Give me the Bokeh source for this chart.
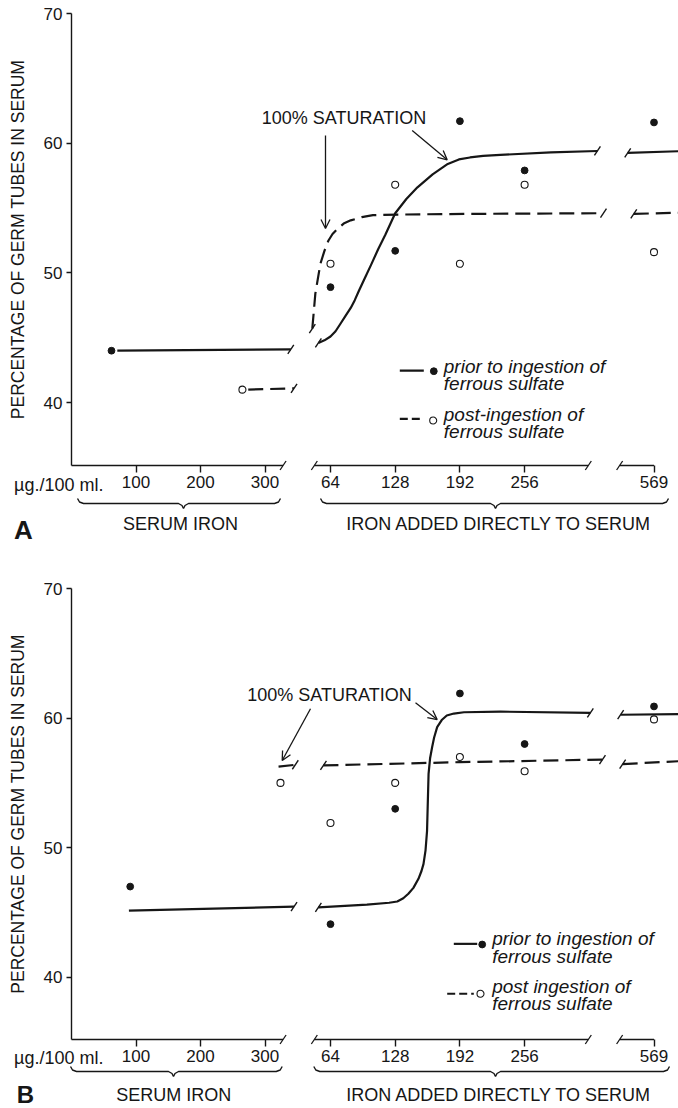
from bokeh.plotting import figure
from bokeh.layouts import column
from bokeh.models import FixedTicker, Range1d, Arrow, OpenHead
from bokeh.core.properties import value
from bokeh.embed import file_html
from bokeh.resources import INLINE

FONT = "Liberation Sans"
INK = "#161616"

# ---------------- data ----------------
SERUM_TICKS = [100, 200, 300]          # µg/100 ml serum iron
ADDED_TICKS = [64, 128, 192, 256]      # µg iron added directly
FAR_TICKS = [569]
Y_TICKS = [40, 50, 60, 70]
Y_LABEL = "PERCENTAGE OF GERM TUBES IN SERUM"

# Panel A - observed points
A_PRIOR_SERUM_X = [62]
A_PRIOR_SERUM_Y = [44.0]
A_POST_SERUM_X = [265]
A_POST_SERUM_Y = [41.0]
A_ADDED_X = [64, 128, 192, 256]
A_PRIOR_ADDED_Y = [48.9, 51.7, 61.7, 57.9]
A_POST_ADDED_Y = [50.7, 56.8, 50.7, 56.8]
A_FAR_X = [569]
A_PRIOR_FAR_Y = [61.6]
A_POST_FAR_Y = [51.6]
# Panel A - drawn curves
A_PRIOR_C1_X = [71, 340]
A_PRIOR_C1_Y = [44.0, 44.1]
A_POST_C1_X = [274, 345]
A_POST_C1_Y = [41.0, 41.1]
A_PRIOR_C2_X = [52, 58, 64, 69, 74, 79, 84, 88, 92, 98, 104, 111, 118, 128, 139, 150,
                165, 180, 191, 202, 215, 232, 282, 328]
A_PRIOR_C2_Y = [44.6, 44.8, 45.1, 45.5, 46.1, 46.7, 47.3, 47.9, 48.6, 49.6, 50.6, 51.8,
                52.9, 54.6, 55.7, 56.6, 57.6, 58.4, 58.75, 58.9, 59.02, 59.1, 59.3, 59.4]
A_POST_C2_X = [46, 49, 54, 58, 62, 66, 71, 77, 84, 95, 106, 133, 200, 334]
A_POST_C2_Y = [45.7, 48.4, 50.7, 51.7, 52.5, 53.0, 53.4, 53.8, 54.05, 54.3, 54.45, 54.5,
               54.55, 54.6]
A_PRIOR_C3_X = [543, 600]
A_PRIOR_C3_Y = [59.25, 59.4]
A_POST_C3_X = [549, 600]
A_POST_C3_Y = [54.55, 54.65]

# Panel B - observed points
B_PRIOR_SERUM_X = [91]
B_PRIOR_SERUM_Y = [47.0]
B_POST_SERUM_X = [324]
B_POST_SERUM_Y = [55.0]
B_ADDED_X = [64, 128, 192, 256]
B_PRIOR_ADDED_Y = [44.1, 53.0, 61.9, 58.0]
B_POST_ADDED_Y = [51.9, 55.0, 57.0, 55.9]
B_FAR_X = [569]
B_PRIOR_FAR_Y = [60.9]
B_POST_FAR_Y = [59.9]
# Panel B - drawn curves
B_PRIOR_C1_X = [89, 345]
B_PRIOR_C1_Y = [45.15, 45.45]
B_POST_C1_X = [321, 347]
B_POST_C1_Y = [56.25, 56.4]
B_PRIOR_C2_X = [52, 100, 122, 130, 136, 141, 146, 151, 154, 156, 158, 159.5, 161, 162.5,
                164.5, 166.5, 169.5, 174, 179, 186, 196, 232, 321]
B_PRIOR_C2_Y = [45.4, 45.6, 45.75, 45.85, 46.1, 46.45, 46.9, 47.6, 48.2, 48.75, 49.8, 51.3,
                55.7, 56.9, 57.75, 58.5, 59.3, 59.85, 60.2, 60.35, 60.45, 60.5, 60.4]
B_POST_C2_X = [57, 192, 333]
B_POST_C2_Y = [56.35, 56.6, 56.8]
B_PRIOR_C3_X = [536, 600]
B_PRIOR_C3_Y = [60.26, 60.31]
B_POST_C3_X = [538, 600]
B_POST_C3_Y = [56.45, 56.7]

# broken x axis: segment extents (in each segment's own units)
SEG1_END = 328
SEG2_SPAN = (48, 319)
SEG3_SPAN = (535, 569)


# ---------------- broken-axis scale ----------------
def seg1(vals):
    return [round(0.645 * v, 2) for v in vals]


def seg2(vals):
    return [round(194.3 + 1.011 * v, 2) for v in vals]


def seg3(vals):
    return [round(582.5 + 1.011 * (v - 569), 2) for v in vals]


def txt(p, x, y, t, size="17px", align="left", style="normal", level="glyph"):
    p.text(x=[x], y=[y], text=[t], text_font=value(FONT), text_font_size=size,
           text_font_style=style, text_align=align, text_baseline="middle",
           text_color=INK, level=level)


def make_panel(d):
    y0 = d["y0"]
    frame_h = d["height"] - d["top"] - d["bottom"]
    ppu = frame_h / (70 - y0)          # pixels per y unit
    p = figure(width=678, height=d["height"], x_range=Range1d(0, 607),
               y_range=Range1d(y0, 70), output_backend="svg", toolbar_location=None,
               min_border_left=71, min_border_right=0,
               min_border_top=d["top"], min_border_bottom=d["bottom"])
    p.outline_line_color = None
    p.grid.visible = False
    p.background_fill_color = "white"
    p.border_fill_color = "white"

    # y axis
    ya = p.yaxis[0]
    ya.ticker = FixedTicker(ticks=Y_TICKS, minor_ticks=[])
    ya.major_tick_out = 5
    ya.major_tick_in = 0
    ya.major_tick_line_color = INK
    ya.major_tick_line_width = 1.4
    ya.axis_line_color = INK
    ya.axis_line_width = 1.4
    ya.major_label_text_font = FONT
    ya.major_label_text_font_size = "17px"
    ya.major_label_text_color = INK
    ya.major_label_standoff = 4
    ya.axis_label = Y_LABEL
    ya.axis_label_text_font = FONT
    ya.axis_label_text_font_size = "17.5px"
    ya.axis_label_text_font_style = "normal"
    ya.axis_label_text_color = INK
    ya.axis_label_standoff = 13

    # x axis (broken): ticks from the three segment scales
    xa = p.xaxis[0]
    ticks = seg1(SERUM_TICKS) + seg2(ADDED_TICKS) + seg3(FAR_TICKS)
    labels = [str(t) for t in SERUM_TICKS + ADDED_TICKS + FAR_TICKS]
    xa.ticker = FixedTicker(ticks=ticks, minor_ticks=[])
    xa.major_label_overrides = {t: l for t, l in zip(ticks, labels)}
    xa.axis_line_color = None
    xa.major_tick_out = 7
    xa.major_tick_in = 0
    xa.major_tick_line_color = INK
    xa.major_tick_line_width = 1.4
    xa.major_label_text_font = FONT
    xa.major_label_text_font_size = "17px"
    xa.major_label_text_color = INK
    xa.major_label_standoff = 3

    # axis line pieces with break marks
    ax0 = [seg1([0])[0], seg2([SEG2_SPAN[0]])[0], seg3([SEG3_SPAN[0]])[0]]
    ax1 = [seg1([SEG1_END])[0], seg2([SEG2_SPAN[1]])[0], seg3([SEG3_SPAN[1]])[0]]
    p.segment(x0=ax0, y0=[y0] * 3, x1=ax1, y1=[y0] * 3, line_color=INK,
              line_width=1.4, level="overlay")
    brk = [ax1[0], ax0[1], ax1[1], ax0[2]]
    p.segment(x0=[b - 3 for b in brk], y0=[y0 - 4.5 / ppu] * 4,
              x1=[b + 3 for b in brk], y1=[y0 + 4.5 / ppu] * 4,
              line_color=INK, line_width=1.3, level="overlay")

    # curves
    solid = dict(line_color=INK, line_width=2.2, line_join="round")
    dashed = dict(line_color=INK, line_width=2.2, line_dash="15 7")
    c = d["curves"]
    p.line(seg1(c["prior1"][0]), c["prior1"][1], **solid)
    p.line(seg2(c["prior2"][0]), c["prior2"][1], **solid)
    p.line(seg3(c["prior3"][0]), c["prior3"][1], **solid)
    p.line(seg1(c["post1"][0]), c["post1"][1], **dashed)
    p.line(seg2(c["post2"][0]), c["post2"][1], **dashed)
    p.line(seg3(c["post3"][0]), c["post3"][1], **dashed)
    # break marks at the ends of the drawn curves
    bx, by = [], []
    for key in ("prior", "post"):
        x1, y1 = c[key + "1"]
        x2, y2 = c[key + "2"]
        x3, y3 = c[key + "3"]
        bx += [seg1([x1[-1]])[0], seg2([x2[0]])[0], seg2([x2[-1]])[0], seg3([x3[0]])[0]]
        by += [y1[-1], y2[0], y2[-1], y3[0]]
    p.segment(x0=[x - 3 for x in bx], y0=[y - 4.5 / ppu for y in by],
              x1=[x + 3 for x in bx], y1=[y + 4.5 / ppu for y in by],
              line_color=INK, line_width=1.4)

    # observed points
    pts = d["points"]
    filled = dict(marker="circle", size=6.8, fill_color=INK, line_color=INK)
    hollow = dict(marker="circle", size=7, fill_color="white", line_color=INK, line_width=1.1)
    p.scatter(seg1(pts["prior_serum"][0]), pts["prior_serum"][1], **filled)
    p.scatter(seg2(pts["added_x"]), pts["prior_added"], **filled)
    p.scatter(seg3(pts["far_x"]), pts["prior_far"], **filled)
    p.scatter(seg1(pts["post_serum"][0]), pts["post_serum"][1], **hollow)
    p.scatter(seg2(pts["added_x"]), pts["post_added"], **hollow)
    p.scatter(seg3(pts["far_x"]), pts["post_far"], **hollow)

    # 100% saturation note and arrows
    sx, sy = d["sat"]
    txt(p, sx, sy, "100% SATURATION", size="18px", align="center")
    for (xs, ys, xe, ye) in d["arrows"]:
        p.add_layout(Arrow(end=OpenHead(size=9, line_color=INK, line_width=1.3),
                           x_start=xs, y_start=ys, x_end=xe, y_end=ye,
                           line_color=INK, line_width=1.3))

    # key
    k = d["key"]
    p.line(k["solid_x"], [k["solid_y"]] * 2, **solid)
    p.scatter([k["dot1"][0]], [k["dot1"][1]], **filled)
    txt(p, k["tx1"], k["t1"][0], "prior to ingestion of", size="19px", style="italic")
    txt(p, k["tx1"], k["t1"][1], "ferrous sulfate", size="19px", style="italic")
    p.line(k["dash_x"], [k["dash_y"]] * 2, line_color=INK, line_width=2.2, line_dash="8 4")
    p.scatter([k["dot2"][0]], [k["dot2"][1]], **hollow)
    txt(p, k["tx2"], k["t2"][0], d["post_label"], size="19px", style="italic")
    txt(p, k["tx2"], k["t2"][1], "ferrous sulfate", size="19px", style="italic")

    # below the axis: units, braces, group names, panel letter
    def yb(px):
        return y0 - px / ppu
    txt(p, 32, yb(d["unit_d"]), "µg./100 ml.", size="18px", align="right", level="overlay")
    bt, bb, bp = d["brace_d"]
    bxs, bys = [], []
    for (x0, x1, xm) in d["braces"]:
        bxs.append([x0, x0 + 2, x0 + 6, xm - 5, xm - 1.5, xm, xm + 1.5, xm + 5, x1 - 6, x1 - 2, x1])
        bys.append([yb(bt), yb(bb - 1.5), yb(bb), yb(bb), yb(bb + 2), yb(bp),
                    yb(bb + 2), yb(bb), yb(bb), yb(bb - 1.5), yb(bt)])
    p.multi_line(bxs, bys, line_color=INK, line_width=1.4, level="overlay")
    gx1, gx2, gd = d["groups"]
    txt(p, gx1, yb(gd), "SERUM IRON", size="18px", align="center", level="overlay")
    txt(p, gx2, yb(gd), "IRON ADDED DIRECTLY TO SERUM", size="18px", align="center",
        level="overlay")
    lx, ld, lsize = d["letter"]
    txt(p, lx, yb(ld), d["name"], size=lsize, align="center", style="bold", level="overlay")
    return p


panel_a = dict(
    name="A", height=555, top=13, bottom=90, y0=35.15, post_label="post-ingestion of",
    curves=dict(prior1=(A_PRIOR_C1_X, A_PRIOR_C1_Y), prior2=(A_PRIOR_C2_X, A_PRIOR_C2_Y),
                prior3=(A_PRIOR_C3_X, A_PRIOR_C3_Y), post1=(A_POST_C1_X, A_POST_C1_Y),
                post2=(A_POST_C2_X, A_POST_C2_Y), post3=(A_POST_C3_X, A_POST_C3_Y)),
    points=dict(prior_serum=(A_PRIOR_SERUM_X, A_PRIOR_SERUM_Y),
                post_serum=(A_POST_SERUM_X, A_POST_SERUM_Y),
                added_x=A_ADDED_X, prior_added=A_PRIOR_ADDED_Y, post_added=A_POST_ADDED_Y,
                far_x=A_FAR_X, prior_far=A_PRIOR_FAR_Y, post_far=A_POST_FAR_Y),
    sat=(272.5, 61.94),
    arrows=[(254, 60.59, 254, 53.42), (340.7, 60.98, 375.7, 58.72)],
    key=dict(solid_x=[328.3, 352.3], solid_y=42.47, dot1=(362.3, 42.42), tx1=372.3,
             t1=(42.78, 41.50), dash_x=[328.3, 352.3], dash_y=38.75, dot2=(361.7, 38.62),
             tx2=372.3, t2=(39.08, 37.80)),
    unit_d=19,
    brace_d=(33, 38, 43),
    braces=[(6, 209, 112), (249, 597, 424)],
    groups=(109, 427.4, 58),
    letter=(-48, 64, "26px"),
)

panel_b = dict(
    name="B", height=553, top=33, bottom=69, y0=35.2, post_label="post ingestion of",
    curves=dict(prior1=(B_PRIOR_C1_X, B_PRIOR_C1_Y), prior2=(B_PRIOR_C2_X, B_PRIOR_C2_Y),
                prior3=(B_PRIOR_C3_X, B_PRIOR_C3_Y), post1=(B_POST_C1_X, B_POST_C1_Y),
                post2=(B_POST_C2_X, B_POST_C2_Y), post3=(B_POST_C3_X, B_POST_C3_Y)),
    points=dict(prior_serum=(B_PRIOR_SERUM_X, B_PRIOR_SERUM_Y),
                post_serum=(B_POST_SERUM_X, B_POST_SERUM_Y),
                added_x=B_ADDED_X, prior_added=B_PRIOR_ADDED_Y, post_added=B_POST_ADDED_Y,
                far_x=B_FAR_X, prior_far=B_PRIOR_FAR_Y, post_far=B_POST_FAR_Y),
    sat=(258, 61.82),
    arrows=[(239, 60.72, 210.7, 56.73), (344, 61.18, 365.7, 59.89)],
    key=dict(solid_x=[382.3, 405.7], solid_y=42.58, dot1=(410.7, 42.53), tx1=420.7,
             t1=(42.97, 41.63), dash_x=[375.7, 402.3], dash_y=38.73, dot2=(409, 38.73),
             tx2=420.7, t2=(39.29, 37.96)),
    unit_d=18,
    brace_d=(27, 32, 37),
    braces=[(-1, 210.7, 102), (242.3, 598, 424)],
    groups=(102.3, 427.4, 55),
    letter=(-46, 55, "24px"),
)

layout = column(make_panel(panel_a), make_panel(panel_b), spacing=0)
open("out.html", "w").write(file_html(layout, INLINE))
